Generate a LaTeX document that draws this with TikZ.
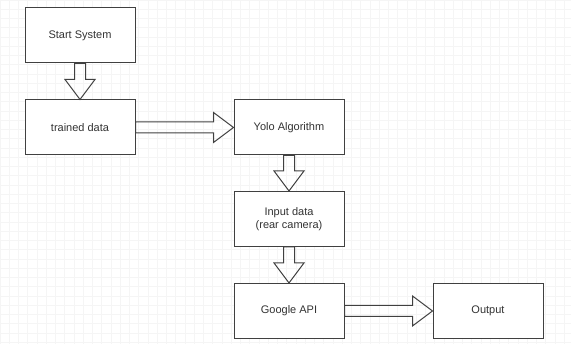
\documentclass[tikz,border=0pt]{standalone}
\usepackage{fontspec}
\setmainfont{Liberation Sans}
\usetikzlibrary{calc}
\tikzset{
  box/.style={draw=black!75, line width=1pt, fill=white, minimum width=110pt,
    minimum height=55pt, align=center, text=black!80,
    font=\fontsize{11}{13}\selectfont},
  flex/.style={draw=black!75, line width=1pt, line join=miter},
  gridline/.style={draw=black!4, line width=.6pt},
}
\newcommand\flexarrow[2]{%
  \draw[flex] let \p1=(#1), \p2=(#2),
      \n1={atan2(\y2-\y1,\x2-\x1)}, \n2={veclen(\x2-\x1,\y2-\y1)} in
    {[shift={(\p1)}, rotate=\n1]
    (0pt,-5.5pt) -- (\n2-20pt,-5.5pt) -- (\n2-20pt,-15pt) -- (\n2,0pt) --
    (\n2-20pt,15pt) -- (\n2-20pt,5.5pt) -- (0pt,5.5pt) -- cycle};
}
\begin{document}
\begin{tikzpicture}[x=1pt,y=-1pt]
  \useasboundingbox (0,0) rectangle (571,344);
  \draw[gridline] (0,344) grid[step=9.25pt] (571,0);
  \node[box] (start)   at (80,35.5)  {Start System};
  \node[box] (trained) at (80,127.5) {trained data};
  \node[box] (yolo)    at (289,127.5) {Yolo Algorithm};
  \node[box] (input)   at (289,219)  {Input data\\(rear camera)};
  \node[box] (google)  at (289,311)  {Google API};
  \node[box] (output)  at (488,311)  {Output};
  \flexarrow{start.south}{trained.north}
  \flexarrow{trained.east}{yolo.west}
  \flexarrow{yolo.south}{input.north}
  \flexarrow{input.south}{google.north}
  \flexarrow{google.east}{output.west}
\end{tikzpicture}
\end{document}
